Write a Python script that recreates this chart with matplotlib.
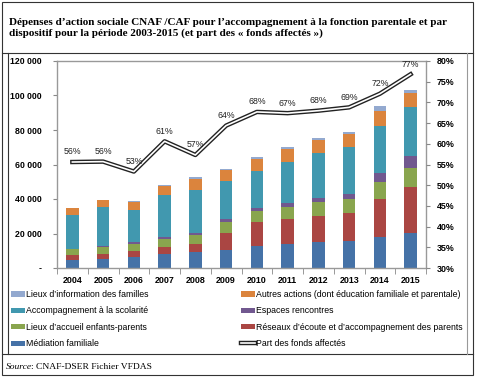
import matplotlib
matplotlib.use("Agg")
import matplotlib.pyplot as plt
import matplotlib.patheffects as pe
from matplotlib.patches import Rectangle
from matplotlib.lines import Line2D
import numpy as np

years = ["2004", "2005", "2006", "2007", "2008", "2009", "2010", "2011", "2012", "2013", "2014", "2015"]
mediation = [4.4, 5.2, 6.5, 8.4, 9.4, 10.6, 12.5, 13.8, 14.8, 15.6, 17.9, 20.4]
reseaux = [2.9, 2.7, 3.1, 3.7, 4.4, 9.8, 14.0, 14.4, 15.2, 16.1, 22.2, 26.5]
laep = [3.6, 4.0, 4.6, 4.8, 5.4, 6.1, 6.5, 7.3, 8.0, 8.2, 9.6, 10.9]
espaces = [0.4, 0.6, 0.6, 1.0, 1.3, 1.7, 1.9, 1.9, 2.3, 2.9, 5.6, 6.9]
scolarite = [19.6, 23.0, 19.0, 24.7, 25.0, 22.3, 21.4, 23.9, 26.3, 27.1, 27.1, 28.4]
autres = [3.7, 3.7, 4.2, 5.0, 6.3, 6.1, 6.9, 7.4, 7.7, 7.7, 8.8, 8.5]
info = [0.2, 0.4, 1.0, 0.8, 1.0, 1.0, 0.9, 1.4, 1.2, 1.3, 2.7, 1.3]
part = [55.6, 55.7, 53.3, 60.6, 57.3, 64.4, 67.7, 67.4, 68.0, 68.8, 72.1, 76.8]
labels_part = ["56%", "56%", "53%", "61%", "57%", "64%", "68%", "67%", "68%", "69%", "72%", "77%"]

series = [
    ("Médiation familiale", mediation, "#4572A7"),
    ("Réseaux d'écoute et d'accompagnement des parents", reseaux, "#AA4643"),
    ("Lieux d'accueil enfants-parents", laep, "#89A54E"),
    ("Espaces rencontres", espaces, "#71588F"),
    ("Accompagnement à la scolarité", scolarite, "#4198AF"),
    ("Autres actions (dont éducation familiale et parentale)", autres, "#DB843D"),
    ("Lieux d'information des familles", info, "#93A9CF"),
]

plt.rcParams['font.family'] = ['Liberation Sans', 'DejaVu Sans']

fig = plt.figure(figsize=(4.8, 3.81), dpi=100)
W, H = 480, 381

def fx(x):
    return x / W

def fy(y):
    return 1 - y / H

# frames
fig.patches.append(Rectangle((fx(2), fy(375)), fx(473) - fx(2), fy(2) - fy(375), transform=fig.transFigure,
                             fill=False, edgecolor="#333333", lw=0.8))
fig.lines.append(Line2D([fx(2), fx(473)], [fy(53), fy(53)], transform=fig.transFigure, color="#333333", lw=0.8))
fig.lines.append(Line2D([fx(2), fx(473)], [fy(354), fy(354)], transform=fig.transFigure, color="#333333", lw=0.8))
fig.lines.append(Line2D([fx(8), fx(8)], [fy(354), fy(53)], transform=fig.transFigure, color="#333333", lw=0.8))
fig.lines.append(Line2D([fx(467), fx(467)], [fy(354), fy(53)], transform=fig.transFigure, color="#999999", lw=0.8))

fig.text(fx(9), fy(28), "Dépenses d\u2019action sociale CNAF /CAF pour l\u2019accompagnement à la fonction parentale et par\n"
         "dispositif pour la période 2003-2015 (et part des « fonds affectés »)",
         family="Liberation Serif", fontweight="bold", fontsize=8.0, va="center", ha="left", linespacing=1.2)

ax = fig.add_axes([fx(57), fy(268), fx(426) - fx(57), fy(61) - fy(268)])
x = np.arange(len(years))
bottom = np.zeros(len(years))
handles = {}
for name, vals, col in series:
    v = np.array(vals) * 1000
    b = ax.bar(x, v, 0.4, bottom=bottom, color=col, edgecolor="none", label=name)
    handles[name] = b
    bottom += v

ax.set_xlim(-0.5, len(years) - 0.5)
ax.set_ylim(0, 120000)
ax.set_yticks(np.arange(0, 120001, 20000))
ax.set_yticklabels(["-", "20 000", "40 000", "60 000", "80 000", "100 000", "120 000"], fontweight="bold", fontsize=6.3)
ax.set_xticks(x)
ax.set_xticklabels(years, fontweight="bold", fontsize=6.4)
ax.tick_params(axis="x", length=0, pad=6)
ax.set_xticks(np.arange(-0.5, len(years), 1), minor=True)
ax.tick_params(axis="x", which="minor", length=4, color="#888888")
ax.tick_params(axis="y", length=3, color="#888888", pad=8)
for s in ax.spines.values():
    s.set_color("#999999")
    s.set_linewidth(1.0)

ax2 = ax.twinx()
ax2.set_ylim(30, 80)
ax2.set_yticks(np.arange(30, 81, 5))
ax2.set_yticklabels([f"{v}%" for v in range(30, 81, 5)], fontweight="bold", fontsize=6.4)
ax2.tick_params(axis="y", length=3, color="#888888", pad=5)
ln, = ax2.plot(x, part, color="white", lw=1.2,
               path_effects=[pe.Stroke(linewidth=3.2, foreground="#222222"), pe.Normal()])
for xi, p, lab in zip(x, part, labels_part):
    ax2.annotate(lab, (xi, p), xytext=(0, 4), textcoords="offset points", ha="center", va="bottom",
                 fontsize=6.3, color="#222222")
for s in ax2.spines.values():
    s.set_visible(False)

left_names = ["Lieux d'information des familles", "Accompagnement à la scolarité",
              "Lieux d'accueil enfants-parents", "Médiation familiale"]
right_names = ["Autres actions (dont éducation familiale et parentale)", "Espaces rencontres",
               "Réseaux d'écoute et d'accompagnement des parents"]
leg_kw = dict(loc="upper left", frameon=False, fontsize=6.3, handlelength=1.6, handleheight=0.55,
              handletextpad=0.15, labelspacing=0.85, borderaxespad=0, borderpad=0)
leg1 = fig.legend([handles[n] for n in left_names], [n.replace("'", "\u2019") for n in left_names],
                  bbox_to_anchor=(fx(11), fy(290)), **leg_kw)
leg2 = fig.legend([handles[n] for n in right_names] + [ln],
                  [n.replace("'", "\u2019") for n in right_names] + ["Part des fonds affectés"],
                  bbox_to_anchor=(fx(241), fy(290)), **leg_kw)

fig.text(fx(6), fy(367), "Source", family="Liberation Serif", style="italic", fontsize=6.8, va="center")
fig.text(fx(31), fy(367), ": CNAF-DSER Fichier VFDAS", family="Liberation Serif", fontsize=6.8, va="center")

fig.savefig("out.png", dpi=100)
